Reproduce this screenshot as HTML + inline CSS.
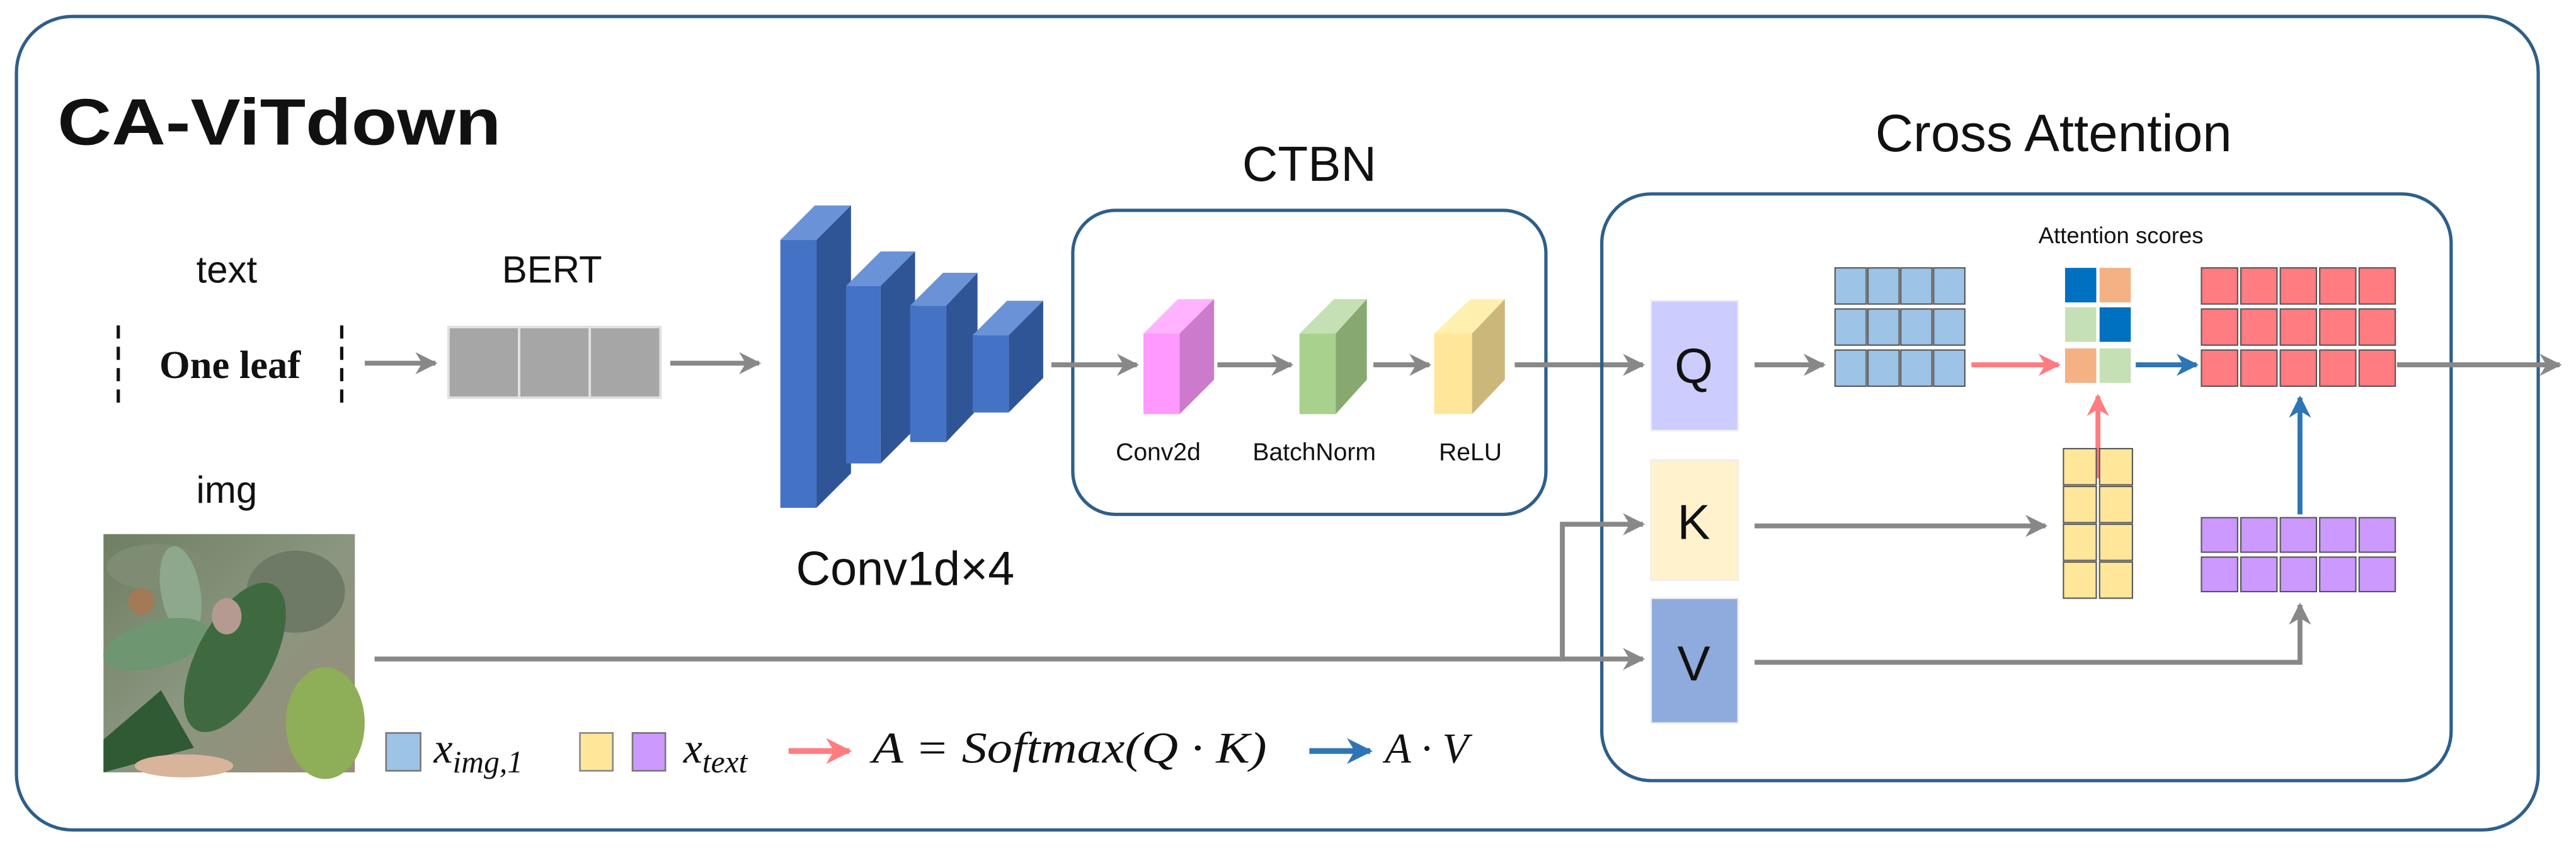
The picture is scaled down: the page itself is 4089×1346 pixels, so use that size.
<!DOCTYPE html>
<html><head><meta charset="utf-8"><style>
html,body{margin:0;padding:0;background:#fff;}
svg{display:block}
text{font-family:"Liberation Sans",sans-serif;fill:#111}
.m{font-family:"Liberation Serif",serif;font-style:italic}
</style></head><body>
<svg width="4089" height="1346" viewBox="0 0 1568 516" preserveAspectRatio="none" xmlns="http://www.w3.org/2000/svg">
<defs>
<marker id="ag" viewBox="0 0 10 10" refX="9" refY="5" markerWidth="4.5" markerHeight="4.5" orient="auto"><path d="M0,0 L10,5 L0,10 L3,5 Z" fill="#888"/></marker>
<marker id="ap" viewBox="0 0 10 10" refX="9" refY="5" markerWidth="4.5" markerHeight="4.5" orient="auto"><path d="M0,0 L10,5 L0,10 L3,5 Z" fill="#ff7c80"/></marker>
<marker id="ab" viewBox="0 0 10 10" refX="9" refY="5" markerWidth="4.5" markerHeight="4.5" orient="auto"><path d="M0,0 L10,5 L0,10 L3,5 Z" fill="#2e75b6"/></marker>
<linearGradient id="bg" x1="0" y1="0" x2="1" y2="1"><stop offset="0" stop-color="#6f7f62"/><stop offset="0.5" stop-color="#8a9680"/><stop offset="1" stop-color="#9a8c78"/></linearGradient>
</defs>
<rect x="10" y="10" width="1535" height="495" rx="34" fill="#fff" stroke="#2e5f8a" stroke-width="2"/>
<text x="35" y="88" font-size="40" font-weight="bold" textLength="270" lengthAdjust="spacingAndGlyphs">CA-ViTdown</text>

<text x="138" y="172" font-size="23" text-anchor="middle">text</text>
<text x="336" y="172" font-size="23" text-anchor="middle">BERT</text>
<line x1="72" y1="198" x2="72" y2="249" stroke="#111" stroke-width="2" stroke-dasharray="8,5"/>
<line x1="208" y1="198" x2="208" y2="249" stroke="#111" stroke-width="2" stroke-dasharray="8,5"/>
<text x="140" y="230" font-size="24" font-weight="bold" text-anchor="middle" style="font-family:'Liberation Serif',serif">One leaf</text>
<line x1="222" y1="221" x2="265" y2="221" stroke="#888" stroke-width="3" marker-end="url(#ag)"/>
<g fill="#a6a6a6" stroke="#e0e0e0" stroke-width="1.5"><rect x="273" y="199" width="43" height="43"/><rect x="316" y="199" width="43" height="43"/><rect x="359" y="199" width="43" height="43"/></g>
<line x1="408" y1="221" x2="462" y2="221" stroke="#888" stroke-width="3" marker-end="url(#ag)"/>

<g>
<polygon points="475,146 496,125 518,125 497,146" fill="#6a92d6"/><polygon points="497,146 518,125 518,288 497,309" fill="#2f5597"/><rect x="475" y="146" width="22" height="163" fill="#4472c4"/>
<polygon points="515,174 536,153 557,153 536,174" fill="#6a92d6"/><polygon points="536,174 557,153 557,261 536,282" fill="#2f5597"/><rect x="515" y="174" width="21" height="108" fill="#4472c4"/>
<polygon points="554,186 574,166 595,166 576,186" fill="#6a92d6"/><polygon points="576,186 595,166 595,249 576,269" fill="#2f5597"/><rect x="554" y="186" width="22" height="83" fill="#4472c4"/>
<polygon points="592,204 613,183 635,183 614,204" fill="#6a92d6"/><polygon points="614,204 635,183 635,230 614,251" fill="#2f5597"/><rect x="592" y="204" width="22" height="47" fill="#4472c4"/>
</g>
<text x="551" y="356" font-size="29" text-anchor="middle">Conv1d×4</text>

<text x="797" y="110" font-size="30" text-anchor="middle">CTBN</text>
<rect x="653" y="128" width="288" height="185" rx="26" fill="none" stroke="#2e5f8a" stroke-width="2"/>
<line x1="640" y1="222" x2="692" y2="222" stroke="#888" stroke-width="3" marker-end="url(#ag)"/>
<polygon points="696,203 717,182 739,182 718,203" fill="#ffb3ff"/><polygon points="718,203 739,182 739,231 718,252" fill="#cc7acc"/><rect x="696" y="203" width="22" height="49" fill="#ff99ff"/>
<line x1="741" y1="222" x2="786" y2="222" stroke="#888" stroke-width="3" marker-end="url(#ag)"/>
<polygon points="791,203 812,182 832,182 813,203" fill="#c5e0b4"/><polygon points="813,203 832,182 832,231 813,252" fill="#87a96f"/><rect x="791" y="203" width="22" height="49" fill="#a9d18e"/>
<line x1="836" y1="222" x2="870" y2="222" stroke="#888" stroke-width="3" marker-end="url(#ag)"/>
<polygon points="873,203 895,182 916,182 896,203" fill="#fff0b0"/><polygon points="896,203 916,182 916,231 896,252" fill="#ccb77a"/><rect x="873" y="203" width="23" height="49" fill="#ffe699"/>
<text x="705" y="280" font-size="15" text-anchor="middle">Conv2d</text>
<text x="800" y="280" font-size="15" text-anchor="middle">BatchNorm</text>
<text x="895" y="280" font-size="15" text-anchor="middle">ReLU</text>
<line x1="922" y1="222" x2="1000" y2="222" stroke="#888" stroke-width="3" marker-end="url(#ag)"/>

<text x="1250" y="92" font-size="32" text-anchor="middle">Cross Attention</text>
<rect x="975" y="118" width="517" height="357" rx="30" fill="none" stroke="#2e5f8a" stroke-width="2"/>
<rect x="1005" y="183" width="53" height="79" fill="#ccccff" stroke="#eee"/>
<rect x="1005" y="280" width="53" height="73" fill="#fff2cc" stroke="#eee"/>
<rect x="1005" y="364" width="53" height="76" fill="#8faadc" stroke="#eee"/>
<text x="1031" y="233" font-size="30" text-anchor="middle">Q</text>
<text x="1031" y="328" font-size="30" text-anchor="middle">K</text>
<text x="1031" y="414" font-size="30" text-anchor="middle">V</text>

<polyline points="228,401 1000,401" fill="none" stroke="#888" stroke-width="3" marker-end="url(#ag)"/>
<polyline points="951,401 951,319 1000,319" fill="none" stroke="#888" stroke-width="3" marker-end="url(#ag)"/>
<line x1="1068" y1="222" x2="1110" y2="222" stroke="#888" stroke-width="3" marker-end="url(#ag)"/>
<line x1="1068" y1="320" x2="1245" y2="320" stroke="#888" stroke-width="3" marker-end="url(#ag)"/>
<polyline points="1068,403 1400,403 1400,368" fill="none" stroke="#888" stroke-width="3" marker-end="url(#ag)"/>

<text x="1291" y="148" font-size="14" text-anchor="middle">Attention scores</text>
<g fill="#9dc3e6" stroke="#555" stroke-width="0.8">
<rect x="1117" y="163" width="19" height="22"/><rect x="1137" y="163" width="19" height="22"/><rect x="1157" y="163" width="19" height="22"/><rect x="1177" y="163" width="19" height="22"/>
<rect x="1117" y="188" width="19" height="22"/><rect x="1137" y="188" width="19" height="22"/><rect x="1157" y="188" width="19" height="22"/><rect x="1177" y="188" width="19" height="22"/>
<rect x="1117" y="213" width="19" height="22"/><rect x="1137" y="213" width="19" height="22"/><rect x="1157" y="213" width="19" height="22"/><rect x="1177" y="213" width="19" height="22"/>
</g>
<g>
<rect x="1257" y="163" width="19" height="21" fill="#0070c0"/><rect x="1278" y="163" width="19" height="21" fill="#f4b183"/>
<rect x="1257" y="187" width="19" height="21" fill="#c5e0b4"/><rect x="1278" y="187" width="19" height="21" fill="#0070c0"/>
<rect x="1257" y="212" width="19" height="21" fill="#f4b183"/><rect x="1278" y="212" width="19" height="21" fill="#c5e0b4"/>
</g>
<line x1="1200" y1="222" x2="1253" y2="222" stroke="#ff7c80" stroke-width="3" marker-end="url(#ap)"/>
<line x1="1300" y1="222" x2="1337" y2="222" stroke="#2e75b6" stroke-width="3" marker-end="url(#ab)"/>
<g fill="#ff7c80" stroke="#555" stroke-width="0.8">
<rect x="1340" y="163" width="22" height="22"/><rect x="1364" y="163" width="22" height="22"/><rect x="1388" y="163" width="22" height="22"/><rect x="1412" y="163" width="22" height="22"/><rect x="1436" y="163" width="22" height="22"/>
<rect x="1340" y="188" width="22" height="22"/><rect x="1364" y="188" width="22" height="22"/><rect x="1388" y="188" width="22" height="22"/><rect x="1412" y="188" width="22" height="22"/><rect x="1436" y="188" width="22" height="22"/>
<rect x="1340" y="213" width="22" height="22"/><rect x="1364" y="213" width="22" height="22"/><rect x="1388" y="213" width="22" height="22"/><rect x="1412" y="213" width="22" height="22"/><rect x="1436" y="213" width="22" height="22"/>
</g>
<line x1="1459" y1="222" x2="1558" y2="222" stroke="#888" stroke-width="3" marker-end="url(#ag)"/>
<line x1="1277" y1="291" x2="1277" y2="241" stroke="#ff7c80" stroke-width="3" marker-end="url(#ap)"/>
<g fill="#ffe699" stroke="#555" stroke-width="0.8">
<rect x="1256" y="273" width="20" height="22"/><rect x="1278" y="273" width="20" height="22"/>
<rect x="1256" y="296" width="20" height="22"/><rect x="1278" y="296" width="20" height="22"/>
<rect x="1256" y="319" width="20" height="22"/><rect x="1278" y="319" width="20" height="22"/>
<rect x="1256" y="342" width="20" height="22"/><rect x="1278" y="342" width="20" height="22"/>
</g>
<line x1="1400" y1="313" x2="1400" y2="242" stroke="#2e75b6" stroke-width="3" marker-end="url(#ab)"/>
<g fill="#cc99ff" stroke="#555" stroke-width="0.8">
<rect x="1340" y="315" width="22" height="21"/><rect x="1364" y="315" width="22" height="21"/><rect x="1388" y="315" width="22" height="21"/><rect x="1412" y="315" width="22" height="21"/><rect x="1436" y="315" width="22" height="21"/>
<rect x="1340" y="339" width="22" height="21"/><rect x="1364" y="339" width="22" height="21"/><rect x="1388" y="339" width="22" height="21"/><rect x="1412" y="339" width="22" height="21"/><rect x="1436" y="339" width="22" height="21"/>
</g>

<text x="138" y="306" font-size="23" text-anchor="middle">img</text>
<g>
<rect x="63" y="325" width="153" height="145" fill="url(#bg)"/>
<ellipse cx="95" cy="345" rx="30" ry="14" fill="#7d8c72"/>
<ellipse cx="180" cy="360" rx="30" ry="25" fill="#6f7a66"/>
<ellipse cx="110" cy="360" rx="12" ry="28" fill="#8da88c" transform="rotate(-10 110 360)"/>
<ellipse cx="95" cy="392" rx="33" ry="14" fill="#6e9670" transform="rotate(-15 95 392)"/>
<ellipse cx="143" cy="400" rx="23" ry="50" fill="#3f6a3f" transform="rotate(28 143 400)"/>
<ellipse cx="138" cy="375" rx="9" ry="11" fill="#b59a92"/>
<polygon points="63,450 98,420 118,455 63,470" fill="#2f5a33"/>
<ellipse cx="198" cy="440" rx="24" ry="34" fill="#8fae58"/>
<ellipse cx="112" cy="466" rx="30" ry="7" fill="#d8b49a"/>
<circle cx="86" cy="366" r="8" fill="#a27a55"/>
</g>

<rect x="235" y="446" width="21" height="23" fill="#9dc3e6" stroke="#777" stroke-width="1"/>
<text x="264" y="464" font-size="26" class="m">x<tspan font-size="19" dy="6">img,1</tspan></text>
<rect x="353" y="446" width="20" height="23" fill="#ffe699" stroke="#888" stroke-width="1"/>
<rect x="385" y="446" width="20" height="23" fill="#cc99ff" stroke="#777" stroke-width="1"/>
<text x="416" y="464" font-size="26" class="m">x<tspan font-size="19" dy="6">text</tspan></text>
<line x1="480" y1="457" x2="517" y2="457" stroke="#ff7c80" stroke-width="3.5" marker-end="url(#ap)"/>
<text x="531" y="464" font-size="27" class="m" textLength="240" lengthAdjust="spacingAndGlyphs">A = Softmax(Q · K)</text>
<line x1="797" y1="457" x2="834" y2="457" stroke="#2e75b6" stroke-width="3.5" marker-end="url(#ab)"/>
<text x="843" y="464" font-size="26" class="m">A · V</text>
</svg>
</body></html>
